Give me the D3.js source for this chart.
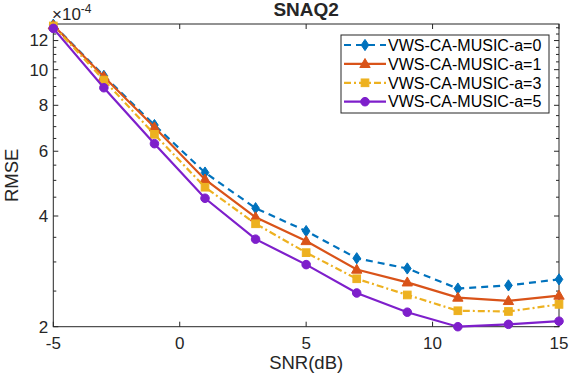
<!DOCTYPE html>
<html>
<head>
<meta charset="utf-8">
<script src="https://cdn.jsdelivr.net/npm/d3@7"></script>
<style>
  body { margin: 0; background: #fff; }
  svg { font-family: "Liberation Sans", Arial, sans-serif; }
</style>
</head>
<body>
<div id="chart"></div>
<script>
// values in units of 1e-4
const snr = [-5, -3, -1, 1, 3, 5, 7, 9, 11, 13, 15];
const rmseA0 = [13.25, 9.62, 7.07, 5.25, 4.20, 3.64, 3.07, 2.88, 2.54, 2.59, 2.69];
const rmseA1 = [13.2, 9.57, 6.97, 5.03, 3.97, 3.42, 2.86, 2.64, 2.40, 2.35, 2.43];
const rmseA3 = [13.15, 9.37, 6.67, 4.79, 3.81, 3.18, 2.70, 2.44, 2.21, 2.20, 2.30];
const rmseA5 = [12.95, 8.93, 6.29, 4.47, 3.46, 2.95, 2.47, 2.19, 2.00, 2.03, 2.07];
const seriesNames = ["VWS-CA-MUSIC-a=0", "VWS-CA-MUSIC-a=1", "VWS-CA-MUSIC-a=3", "VWS-CA-MUSIC-a=5"];
const xTicks = [-5, 0, 5, 10, 15];
const yTicks = [2, 4, 6, 8, 10, 12];

const series = [
  { name: seriesNames[0], values: rmseA0, color: "#0072BD", dash: "7,5", marker: "diamond" },
  { name: seriesNames[1], values: rmseA1, color: "#D95319", dash: null, marker: "triangle" },
  { name: seriesNames[2], values: rmseA3, color: "#EDB120", dash: "7,3,2,3", marker: "square" },
  { name: seriesNames[3], values: rmseA5, color: "#7E1FCB", dash: null, marker: "circle" }
];

const W = 570, H = 378;
const pl = 53.3, pr = 559, pt = 24, pb = 326.7;
const axisColor = "#262626";

const svg = d3.select("#chart").append("svg").attr("width", W).attr("height", H);

const x = d3.scaleLinear().domain([-5, 15]).range([pl, pr]);
const y = d3.scaleLog().domain([2, 13.31]).range([pb, pt]);

// minor ticks every 0.5
const minor = d3.range(2, 13.01, 0.5).filter(v => !yTicks.includes(v));

const g = svg.append("g");

// box
g.append("rect").attr("x", pl).attr("y", pt)
  .attr("width", pr - pl).attr("height", pb - pt)
  .attr("fill", "none").attr("stroke", axisColor).attr("stroke-width", 1);

// x ticks (bottom + top, inward)
xTicks.forEach(t => {
  g.append("line").attr("x1", x(t)).attr("x2", x(t)).attr("y1", pb).attr("y2", pb - 5)
    .attr("stroke", axisColor);
  g.append("line").attr("x1", x(t)).attr("x2", x(t)).attr("y1", pt).attr("y2", pt + 5)
    .attr("stroke", axisColor);
  g.append("text").attr("x", x(t)).attr("y", pb + 22).attr("text-anchor", "middle")
    .attr("font-size", 17).attr("fill", axisColor).text(t);
});

// y ticks (left + right, inward)
yTicks.forEach(t => {
  g.append("line").attr("x1", pl).attr("x2", pl + 5).attr("y1", y(t)).attr("y2", y(t))
    .attr("stroke", axisColor);
  g.append("line").attr("x1", pr).attr("x2", pr - 5).attr("y1", y(t)).attr("y2", y(t))
    .attr("stroke", axisColor);
  g.append("text").attr("x", pl - 5).attr("y", y(t)).attr("dy", "0.35em")
    .attr("text-anchor", "end").attr("font-size", 17).attr("fill", axisColor).text(t);
});
minor.forEach(t => {
  g.append("line").attr("x1", pl).attr("x2", pl + 3).attr("y1", y(t)).attr("y2", y(t))
    .attr("stroke", axisColor);
  g.append("line").attr("x1", pr).attr("x2", pr - 3).attr("y1", y(t)).attr("y2", y(t))
    .attr("stroke", axisColor);
});

// exponent label
const ex = g.append("text").attr("x", 52).attr("y", 20).attr("font-size", 17).attr("fill", axisColor);
ex.append("tspan").text("\u00d710");
ex.append("tspan").attr("dy", -7).attr("font-size", 12).text("-4");

// axis labels + title
g.append("text").attr("x", (pl + pr) / 2).attr("y", 369).attr("text-anchor", "middle")
  .attr("font-size", 18.5).attr("fill", axisColor).text("SNR(dB)");
g.append("text").attr("transform", `translate(18,${(pt + pb) / 2}) rotate(-90)`)
  .attr("text-anchor", "middle").attr("font-size", 18.5).attr("fill", axisColor).text("RMSE");
g.append("text").attr("x", (pl + pr) / 2).attr("y", 16).attr("text-anchor", "middle")
  .attr("font-size", 19).attr("font-weight", "bold").attr("fill", axisColor).text("SNAQ2");

function drawMarker(sel, type, cx, cy, color, s) {
  if (type === "diamond") {
    sel.append("path").attr("d", `M${cx},${cy - s * 1.25}L${cx + s * 0.85},${cy}L${cx},${cy + s * 1.25}L${cx - s * 0.85},${cy}Z`)
      .attr("fill", color).attr("stroke", color);
  } else if (type === "triangle") {
    sel.append("path").attr("d", `M${cx},${cy - s * 1.2}L${cx + s * 1.15},${cy + s * 0.8}L${cx - s * 1.15},${cy + s * 0.8}Z`)
      .attr("fill", color).attr("stroke", color);
  } else if (type === "square") {
    sel.append("rect").attr("x", cx - s * 0.85).attr("y", cy - s * 0.85)
      .attr("width", s * 1.7).attr("height", s * 1.7).attr("fill", color).attr("stroke", color);
  } else {
    sel.append("circle").attr("cx", cx).attr("cy", cy).attr("r", s * 0.95)
      .attr("fill", color).attr("stroke", color);
  }
}

const line = d3.line().x((d, i) => x(snr[i])).y(d => y(d));

series.forEach(s => {
  const sg = svg.append("g");
  sg.append("path").datum(s.values).attr("d", line)
    .attr("fill", "none").attr("stroke", s.color).attr("stroke-width", 2.2)
    .attr("stroke-dasharray", s.dash);
  s.values.forEach((v, i) => drawMarker(sg, s.marker, x(snr[i]), y(v), s.color, 4.5));
});

// legend
const lg = svg.append("g");
lg.append("rect").attr("x", 341).attr("y", 35).attr("width", 208).attr("height", 78)
  .attr("fill", "#fff").attr("stroke", axisColor).attr("stroke-width", 1);
series.forEach((s, i) => {
  const ly = 45 + i * 18.9;
  lg.append("line").attr("x1", 344).attr("x2", 386).attr("y1", ly).attr("y2", ly)
    .attr("stroke", s.color).attr("stroke-width", 2.2).attr("stroke-dasharray", s.dash);
  drawMarker(lg, s.marker, 365, ly, s.color, 4.5);
  lg.append("text").attr("x", 388).attr("y", ly).attr("dy", "0.36em")
    .attr("font-size", 16).attr("fill", "#000").text(s.name);
});
</script>
</body>
</html>
